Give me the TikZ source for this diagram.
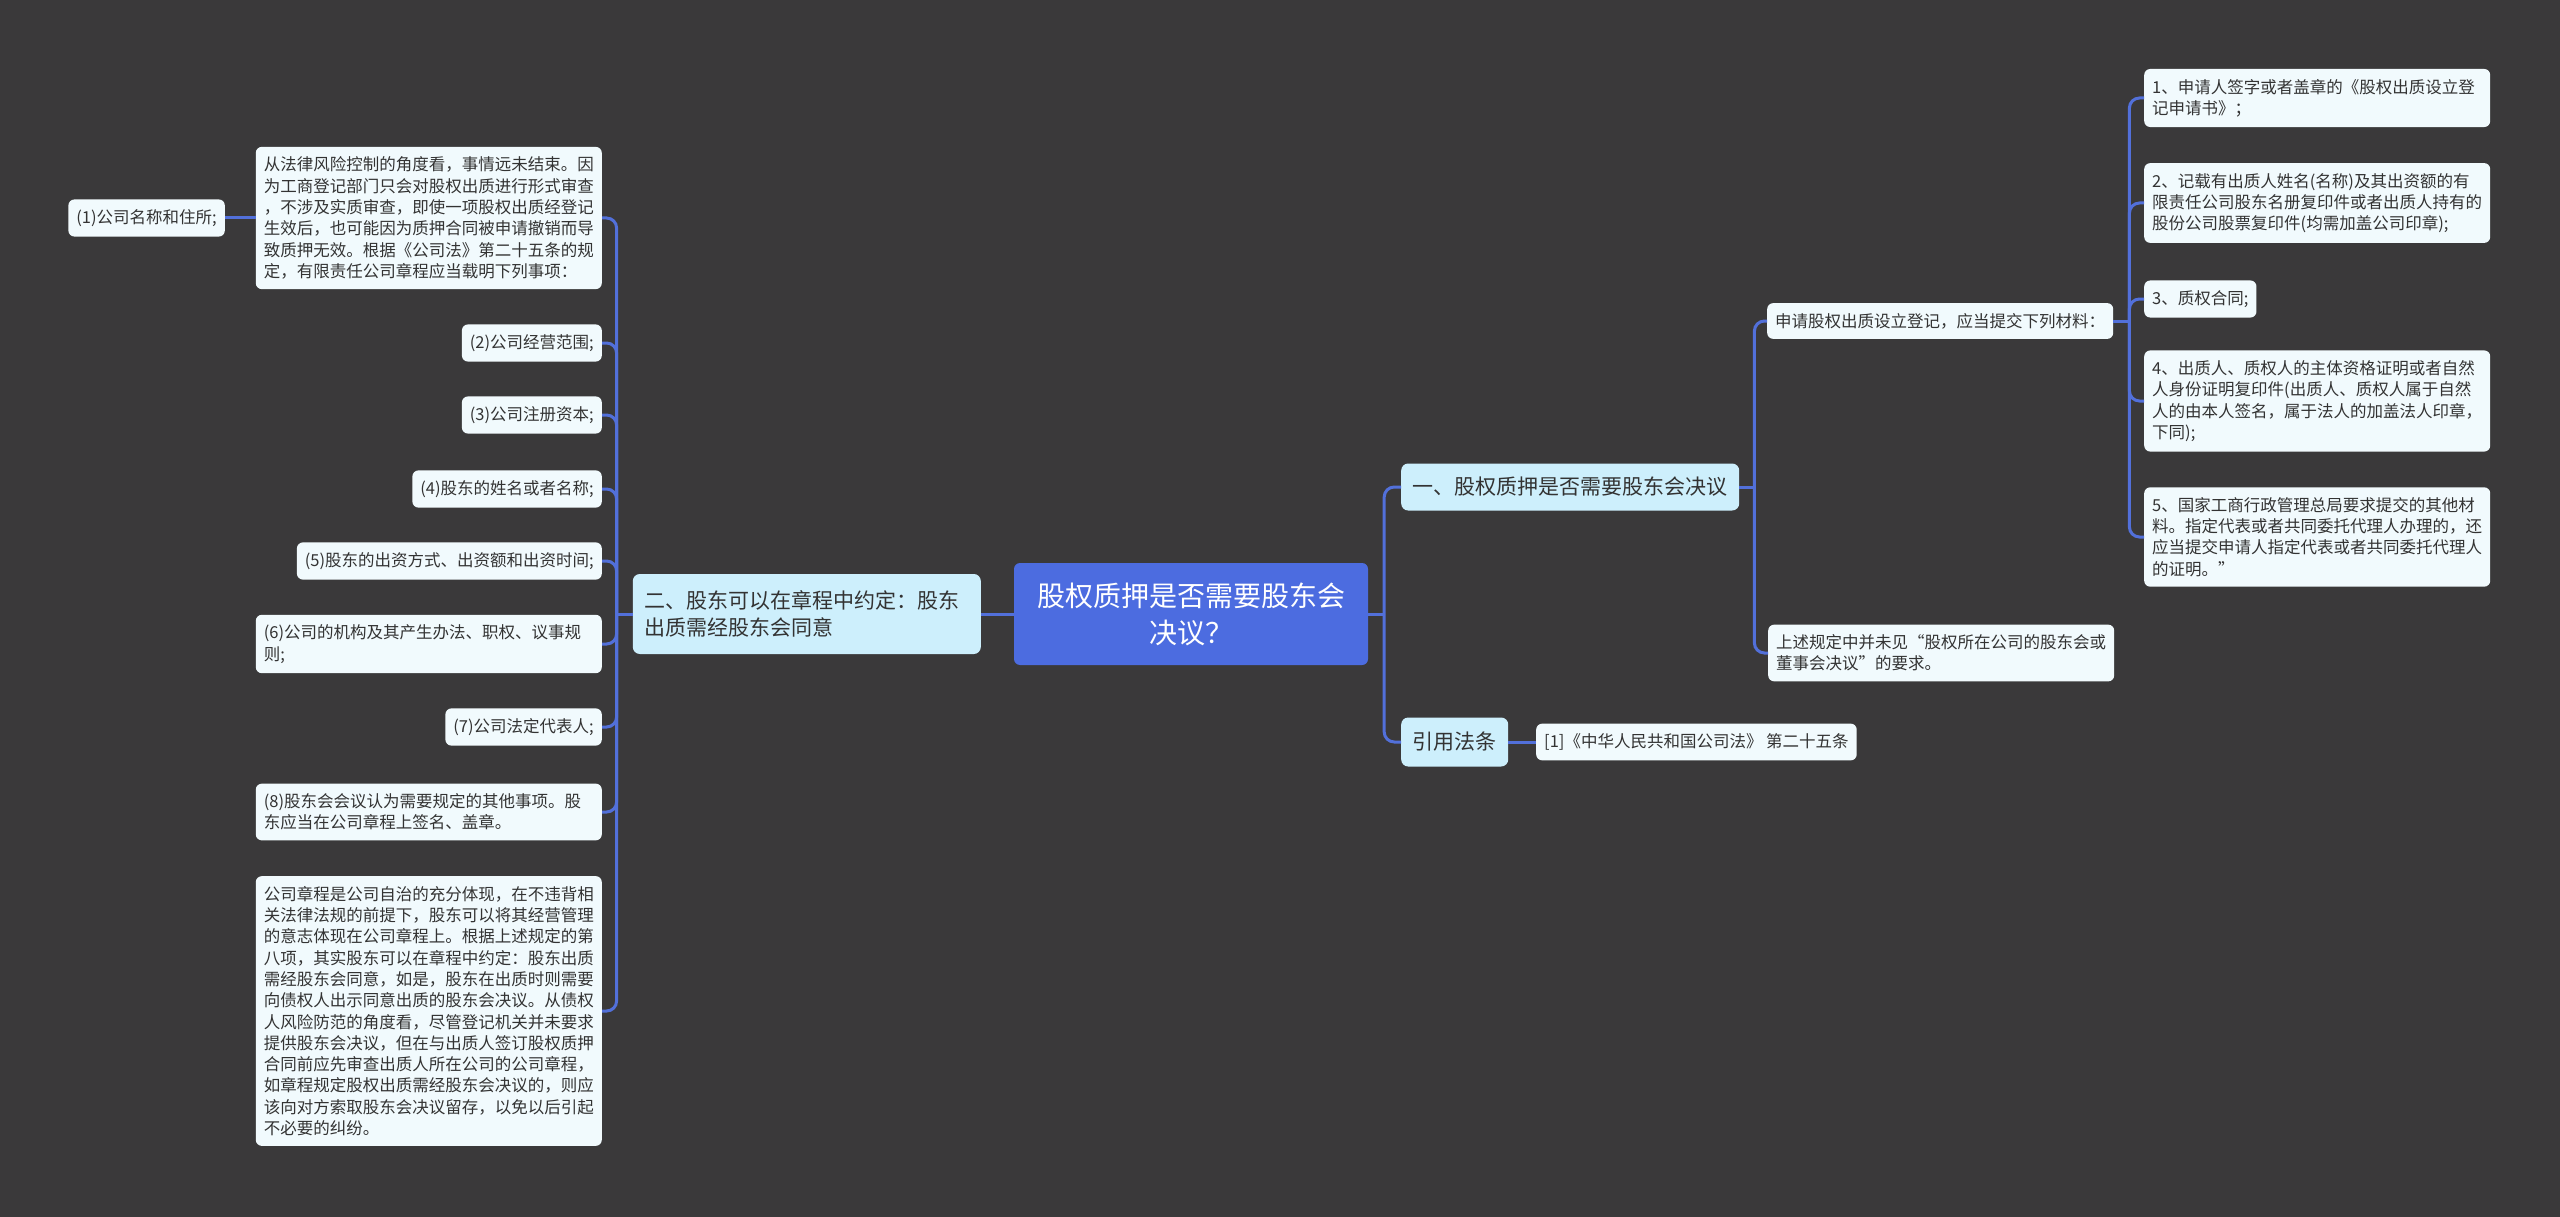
\documentclass[tikz,border=0pt]{standalone}
\usepackage{fontspec}
\setmainfont{Noto Sans CJK SC}
\usepackage{tikz}
\usetikzlibrary{positioning}
\definecolor{bgDark}{HTML}{3A393A}
\definecolor{mBlue}{HTML}{4C6CE0}
\definecolor{linkBlue}{HTML}{5270DA}
\definecolor{topicCyan}{HTML}{CDEFFC}
\definecolor{leafWhite}{HTML}{F1FAFD}
\definecolor{inkGrey}{HTML}{333333}

\begin{document}
\begin{tikzpicture}[x=1pt, y=-1pt,
  rootbox/.style={fill=mBlue, rounded corners=6pt, text=white, align=center,
    font=\fontsize{28}{37}\selectfont, minimum width=354pt, minimum height=102pt},
  topicbox/.style={fill=topicCyan, rounded corners=7pt, text=inkGrey, align=left,
    font=\fontsize{21}{27}\selectfont, inner xsep=11.5pt, inner ysep=4pt},
  leafbox/.style={fill=leafWhite, rounded corners=6pt, text=inkGrey, align=left,
    font=\fontsize{16.5}{21.3}\selectfont, inner xsep=8pt, inner ysep=10pt},
  wideleaf/.style={leafbox, text width=330pt},
  link/.style={linkBlue, line width=3pt, rounded corners=10pt}]
  \fill[bgDark] (0,0) rectangle (2560,1217);
  \useasboundingbox (0,0) rectangle (2560,1217);

  % centre and main topics
  \node[rootbox] (root) at (1191,614) {股权质押是否需要股东会\\决议？};
  \node[topicbox, anchor=west, minimum height=47pt] (t1) at (1401,487) {一、股权质押是否需要股东会决议};
  \node[topicbox, anchor=west, minimum height=49pt] (cite) at (1401,742) {引用法条};
  \node[topicbox, anchor=east, text width=325pt, minimum height=80pt] (t2) at (981,614)
    {二、股东可以在章程中约定：股东\\出质需经股东会同意};

  % right side
  \node[leafbox, anchor=west] (law) at (1536,742) {[1]《中华人民共和国公司法》 第二十五条};
  \node[leafbox, anchor=west] (apply) at (1767,321) {申请股权出质设立登记，应当提交下列材料：};
  \node[wideleaf, anchor=west] (note) at (1768,653) {上述规定中并未见“股权所在公司的股东会或\\董事会决议”的要求。};
  \node[wideleaf, anchor=west] (m1) at (2144,98) {1、申请人签字或者盖章的《股权出质设立登\\记申请书》；};
  \node[wideleaf, anchor=west] (m2) at (2144,203) {2、记载有出质人姓名(名称)及其出资额的有\\限责任公司股东名册复印件或者出质人持有的\\股份公司股票复印件(均需加盖公司印章);};
  \node[leafbox, anchor=west] (m3) at (2144,299) {3、质权合同;};
  \node[wideleaf, anchor=west] (m4) at (2144,401) {4、出质人、质权人的主体资格证明或者自然\\人身份证明复印件(出质人、质权人属于自然\\人的由本人签名，属于法人的加盖法人印章，\\下同);};
  \node[wideleaf, anchor=west] (m5) at (2144,537) {5、国家工商行政管理总局要求提交的其他材\\料。指定代表或者共同委托代理人办理的，还\\应当提交申请人指定代表或者共同委托代理人\\的证明。”};

  % left side
  \node[wideleaf, anchor=east] (risk) at (602,218) {从法律风险控制的角度看，事情远未结束。因\\为工商登记部门只会对股权出质进行形式审查\\，不涉及实质审查，即使一项股权出质经登记\\生效后，也可能因为质押合同被申请撤销而导\\致质押无效。根据《公司法》第二十五条的规\\定，有限责任公司章程应当载明下列事项：};
  \node[leafbox, anchor=east] (i1) at (225,218) {(1)公司名称和住所;};
  \node[leafbox, anchor=east] (i2) at (602,343) {(2)公司经营范围;};
  \node[leafbox, anchor=east] (i3) at (602,415) {(3)公司注册资本;};
  \node[leafbox, anchor=east] (i4) at (602,489) {(4)股东的姓名或者名称;};
  \node[leafbox, anchor=east] (i5) at (602,561) {(5)股东的出资方式、出资额和出资时间;};
  \node[wideleaf, anchor=east] (i6) at (602,644) {(6)公司的机构及其产生办法、职权、议事规\\则;};
  \node[leafbox, anchor=east] (i7) at (602,727) {(7)公司法定代表人;};
  \node[wideleaf, anchor=east] (i8) at (602,812) {(8)股东会会议认为需要规定的其他事项。股\\东应当在公司章程上签名、盖章。};
  \node[wideleaf, anchor=east] (charter) at (602,1011) {公司章程是公司自治的充分体现，在不违背相\\关法律法规的前提下，股东可以将其经营管理\\的意志体现在公司章程上。根据上述规定的第\\八项，其实股东可以在章程中约定：股东出质\\需经股东会同意，如是，股东在出质时则需要\\向债权人出示同意出质的股东会决议。从债权\\人风险防范的角度看，尽管登记机关并未要求\\提供股东会决议，但在与出质人签订股权质押\\合同前应先审查出质人所在公司的公司章程，\\如章程规定股权出质需经股东会决议的，则应\\该向对方索取股东会决议留存，以免以后引起\\不必要的纠纷。};

  % connectors
  \coordinate (rootR) at ([xshift=16pt]root.east);
  \coordinate (t1R) at ([xshift=15pt]t1.east);
  \coordinate (applyR) at ([xshift=16pt]apply.east);
  \coordinate (t2L) at ([xshift=-16pt]t2.west);
  \draw[link] (root.east) -- (rootR);
  \draw[link] (root.west) -- (t2.east);
  \draw[link] (t1.east) -- (t1R);
  \draw[link] (apply.east) -- (applyR);
  \draw[link] (t2.west) -- (t2L);
  \draw[link] (cite.east) -- (law.west);
  \draw[link] (i1.east) -- (risk.west);
  \foreach \n in {t1,cite} \draw[link] (rootR) |- (\n.west);
  \foreach \n in {apply,note} \draw[link] (t1R) |- (\n.west);
  \foreach \n in {m1,m2,m3,m4,m5} \draw[link] (applyR) |- (\n.west);
  \foreach \n in {risk,i2,i3,i4,i5,i6,i7,i8,charter} \draw[link] (t2L) |- (\n.east);
\end{tikzpicture}
\end{document}
